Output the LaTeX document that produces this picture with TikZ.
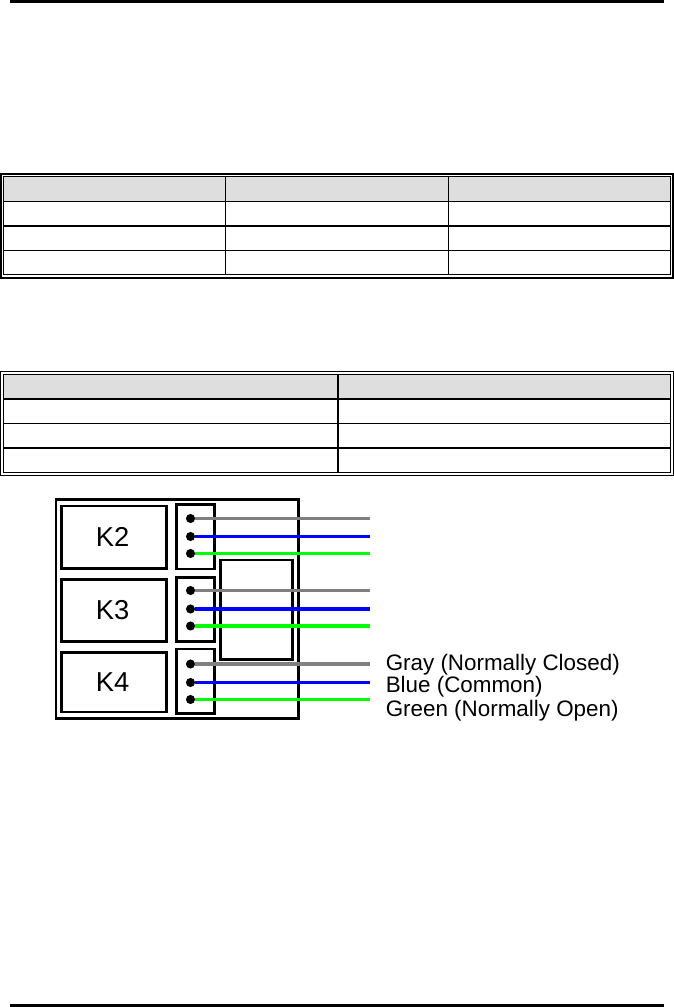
\documentclass[tikz,border=0pt]{standalone}
\usepackage{fontspec}
\setmainfont{Liberation Sans}

\begin{document}
\begin{tikzpicture}[x=0.75pt,y=-0.75pt,line cap=butt]
  % Key Colors
  \colorlet{headcolor} {black!13}
  \colorlet{graywire}  {black!50}
  \colorlet{bluewire}  {blue}
  \colorlet{greenwire} {green}

  % Styles
  \tikzstyle{thin rule}=[line width=0.75pt]
  \tikzstyle{thick rule}=[line width=1.5pt]
  \tikzstyle{board}=[draw,line width=1.7pt]
  \tikzstyle{relay}=[draw,line width=1.8pt]
  \tikzstyle{relay text}=[font=\fontsize{20.5}{24}\selectfont]
  \tikzstyle{legend text}=[anchor=base west,inner sep=0pt,font=\fontsize{16.8}{20}\selectfont]
  \tikzstyle{pin}=[circle,fill=black,inner sep=0pt,minimum size=6.8pt]
  \tikzstyle{wire}=[line width=2.8pt]

  \useasboundingbox (0,0) rectangle (674,1007);

  % Page rules
  \fill (10,0)    rectangle (664,3);
  \fill (10,1004) rectangle (664,1007);

  % First table
  \fill[headcolor] (4,177) rectangle (670,201);
  \draw[thick rule] (1,174) rectangle (673,278);
  \draw[thin rule]  (3.5,176.5) rectangle (670,274.5);
  \draw[thin rule]  (3.5,201) -- (670,201);
  \draw[thick rule] (3.5,226) -- (670,226);
  \draw[thin rule]  (3.5,250.5) -- (670,250.5);
  \foreach \colx in {225.5,448.5}
    \draw[thin rule] (\colx,176.5) -- (\colx,274.5);

  % Second table
  \fill[headcolor] (4,375) rectangle (670,398);
  \draw[thin rule]  (0.5,371.5) rectangle (673,475.5);
  \draw[thin rule]  (3.5,374.5) rectangle (670,472.5);
  \draw[thick rule] (3.5,398.5) -- (670,398.5);
  \draw[thin rule]  (3.5,423.5) -- (670,423.5);
  \draw[thick rule] (3.5,447.5) -- (670,447.5);
  \draw[thick rule] (337.5,374.5) -- (337.5,472.5);

  % Board
  \draw[board] (56,499.5) rectangle (298.5,718.5);
  \draw[relay] (220.5,560) rectangle (292.5,659.5);

  % Relays and their connectors
  \foreach \name/\ya/\yb/\yc/\yd in {K2/506/568.5/504.5/569,K3/579.5/641.5/577.5/641.5,K4/652.5/712/649/713.5}{
    \draw[relay] (61.5,\ya) rectangle (166.5,\yb)
      node[midway,relay text,xshift=-1] (\name) {\name};
    \draw[relay] (176.5,\yc) rectangle (214.5,\yd);
  }

  % Pins and wires
  \foreach \n/\ypos/\col in {1/518.5/graywire,2/536.5/bluewire,3/553.5/greenwire,
                             4/590.5/graywire,5/609/bluewire,6/626/greenwire,
                             7/664/graywire,8/682.5/bluewire,9/699.5/greenwire}{
    \node[pin] (pin\n) at (190.5,\ypos) {};
    \coordinate (end\n) at (369.5,\ypos);
    \draw[wire,\col] (pin\n) -- (end\n);
  }

  % Legend
  \node[legend text] (graytext)  at (385.5,670)   {Gray (Normally Closed)};
  \node[legend text] (bluetext)  at (385.5,692.5) {Blue (Common)};
  \node[legend text] (greentext) at (385.5,716)   {Green (Normally Open)};
\end{tikzpicture}
\end{document}
